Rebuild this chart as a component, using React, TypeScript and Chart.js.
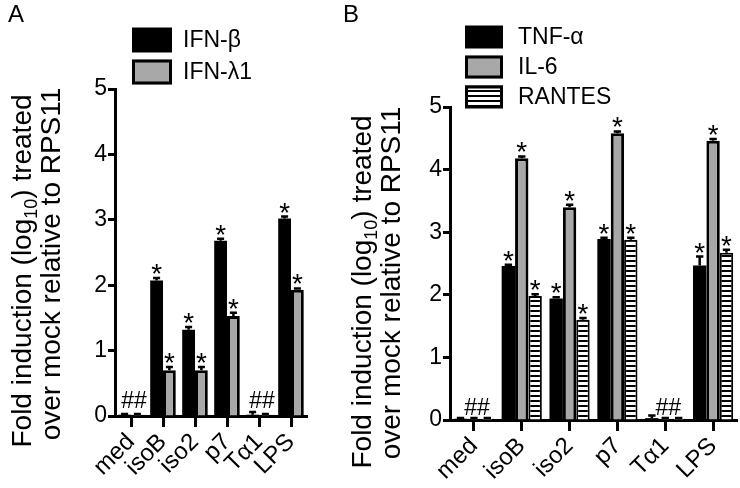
import React, { useEffect, useRef } from "react";
import { Chart, registerables } from "chart.js";

Chart.register(...registerables);

const FONT = "'Liberation Sans', Arial, sans-serif";

// ---------- data ----------
const categories = ["med", "isoB", "iso2", "p7", "Tα1", "LPS"];
const yTickValues = [0, 1, 2, 3, 4, 5];

// Panel A
const ifnBeta = [0.02, 2.07, 1.32, 2.68, 0.02, 3.02];
const ifnBetaErr = [0.01, 0.04, 0.04, 0.03, 0.04, 0.03];
const ifnLambda1 = [0.02, 0.7, 0.7, 1.53, 0.02, 1.93];
const ifnLambda1Err = [0.01, 0.05, 0.05, 0.05, 0.01, 0.02];
const starsA = [false, true, true, true, false, true];
const hashA = ["##", "", "", "", "##", ""];

// Panel B
const tnfAlpha = [0.02, 2.46, 1.94, 2.89, 0.03, 2.47];
const tnfAlphaErr = [0.01, 0.02, 0.02, 0.02, 0.04, 0.14];
const il6 = [0.02, 4.18, 3.4, 4.58, 0.02, 4.46];
const il6Err = [0.01, 0.03, 0.04, 0.03, 0.01, 0.03];
const rantes = [0.02, 1.98, 1.6, 2.88, 0.02, 2.67];
const rantesErr = [0.01, 0.03, 0.03, 0.03, 0.01, 0.05];
const starsB = [false, true, true, true, false, true];
const hashB = ["##", "", "", "", "##", ""];

const GRAY = "#a8a8a8";

function makeHatch(): CanvasPattern | string {
  const c = document.createElement("canvas");
  c.width = 8;
  c.height = 5;
  const g = c.getContext("2d");
  if (!g) return "#fff";
  g.fillStyle = "#fff";
  g.fillRect(0, 0, 8, 5);
  g.fillStyle = "#000";
  g.fillRect(0, 0, 8, 2);
  const p = g.createPattern(c, "repeat");
  return p || "#fff";
}

const annotPlugin = {
  id: "annot",
  afterDatasetsDraw(chart: any, _args: any, opts: any) {
    const ctx = chart.ctx;
    const y = chart.scales.y;
    const x = chart.scales.x;
    ctx.save();
    // error bars + stars
    chart.data.datasets.forEach((ds: any, i: number) => {
      const meta = chart.getDatasetMeta(i);
      meta.data.forEach((bar: any, j: number) => {
        const v = ds.data[j];
        const e = ds.errors[j];
        const yTop = y.getPixelForValue(v + e);
        const cap = Math.max(4, bar.width * 0.55);
        ctx.strokeStyle = "#000";
        ctx.lineWidth = 2.5;
        ctx.beginPath();
        ctx.moveTo(bar.x, bar.y);
        ctx.lineTo(bar.x, yTop);
        ctx.moveTo(bar.x - cap / 2, yTop);
        ctx.lineTo(bar.x + cap / 2, yTop);
        ctx.stroke();
        if (ds.stars[j]) {
          ctx.fillStyle = "#000";
          ctx.font = `28px ${FONT}`;
          ctx.textAlign = "center";
          ctx.textBaseline = "alphabetic";
          ctx.fillText("*", bar.x, yTop + 5);
        }
      });
    });
    // hash marks
    const y0 = y.getPixelForValue(0);
    opts.hash.forEach((h: string, j: number) => {
      if (!h) return;
      ctx.fillStyle = "#000";
      ctx.font = `23px ${FONT}`;
      ctx.textAlign = "center";
      ctx.textBaseline = "alphabetic";
      ctx.fillText(h, x.getPixelForValue(j) + 3, y0 - opts.hashGap);
    });
    ctx.restore();
  },
  afterDraw(chart: any, _args: any, opts: any) {
    const ctx = chart.ctx;
    ctx.save();
    // panel letter
    ctx.fillStyle = "#000";
    ctx.font = `24px ${FONT}`;
    ctx.textAlign = "left";
    ctx.textBaseline = "alphabetic";
    ctx.fillText(opts.letter, opts.letterX, 22);
    // legend
    chart.data.datasets.forEach((ds: any, i: number) => {
      const L = opts.legend;
      const cy = L.rows[i];
      const bx = L.x;
      const bw = L.w;
      const bh = L.h;
      ctx.fillStyle = ds.backgroundColor;
      ctx.fillRect(bx, cy - bh / 2, bw, bh);
      if (ds.borderWidth > 0) {
        ctx.strokeStyle = "#000";
        ctx.lineWidth = 3;
        ctx.strokeRect(bx + 1.5, cy - bh / 2 + 1.5, bw - 3, bh - 3);
      }
      ctx.fillStyle = "#000";
      ctx.font = `23px ${FONT}`;
      ctx.textAlign = "left";
      ctx.textBaseline = "middle";
      ctx.fillText(ds.label, L.textX, cy + 1);
    });
    // y title (two lines, with subscript)
    const T = opts.title;
    const fs = T.size;
    const sub = Math.round(fs * 0.65);
    const drawLine = (parts: { t: string; sub?: boolean }[], bx: number, cy: number) => {
      let total = 0;
      parts.forEach((p) => {
        ctx.font = `${p.sub ? sub : fs}px ${FONT}`;
        total += ctx.measureText(p.t).width;
      });
      ctx.save();
      ctx.translate(bx, cy);
      ctx.rotate(-Math.PI / 2);
      ctx.textAlign = "left";
      ctx.textBaseline = "alphabetic";
      ctx.fillStyle = "#000";
      let cx = -total / 2;
      parts.forEach((p) => {
        ctx.font = `${p.sub ? sub : fs}px ${FONT}`;
        ctx.fillText(p.t, cx, p.sub ? fs * 0.2 : 0);
        cx += ctx.measureText(p.t).width;
      });
      ctx.restore();
    };
    drawLine(
      [{ t: "Fold induction (log" }, { t: "10", sub: true }, { t: ") treated" }],
      T.x1,
      T.cy1
    );
    drawLine([{ t: "over mock relative to RPS11" }], T.x2, T.cy2);
    ctx.restore();
  },
};

function baseOptions(cfg: any) {
  return {
    responsive: false,
    animation: false as const,
    events: [],
    layout: { padding: { top: cfg.top, left: 0, right: cfg.right, bottom: 0 } },
    plugins: {
      legend: { display: false },
      tooltip: { enabled: false },
      annot: cfg.annot,
    },
    scales: {
      x: {
        type: "category" as const,
        offset: true,
        grid: {
          offset: false,
          drawOnChartArea: false,
          drawTicks: true,
          tickLength: 11,
          tickWidth: 3,
          tickColor: "#000",
        },
        border: { display: true, width: 3, color: "#000" },
        ticks: {
          color: "#000",
          font: { family: FONT, size: 24 },
          minRotation: 45,
          maxRotation: 45,
          padding: 1,
          autoSkip: false,
        },
        afterFit: (s: any) => {
          s.height = cfg.xh;
        },
      },
      y: {
        min: 0,
        max: 5,
        afterBuildTicks: (s: any) => {
          s.ticks = yTickValues.map((v) => ({ value: v }));
        },
        grid: {
          drawOnChartArea: false,
          drawTicks: true,
          tickLength: 7,
          tickWidth: 3,
          tickColor: "#000",
        },
        border: { display: true, width: 3, color: "#000" },
        ticks: {
          color: "#000",
          font: { family: FONT, size: 23 },
          padding: 1,
        },
        afterFit: (s: any) => {
          s.width = cfg.yw;
        },
      },
    },
  };
}

export default function App() {
  const refA = useRef<HTMLCanvasElement>(null);
  const refB = useRef<HTMLCanvasElement>(null);

  useEffect(() => {
    const hatch = makeHatch();
    const chartA = new Chart(refA.current as HTMLCanvasElement, {
      type: "bar",
      data: {
        labels: categories,
        datasets: [
          {
            label: "IFN-β",
            data: ifnBeta,
            errors: ifnBetaErr,
            stars: starsA,
            backgroundColor: "#000",
            borderColor: "#000",
            borderWidth: 0,
            categoryPercentage: 0.8,
            barPercentage: 1,
          } as any,
          {
            label: "IFN-λ1",
            data: ifnLambda1,
            errors: ifnLambda1Err,
            stars: starsA,
            backgroundColor: GRAY,
            borderColor: "#000",
            borderWidth: 3,
            borderSkipped: "bottom",
            categoryPercentage: 0.8,
            barPercentage: 1,
          } as any,
        ],
      },
      options: baseOptions({
        top: 89,
        right: 33,
        xh: 72,
        yw: 115,
        annot: {
          hash: hashA,
          hashGap: 8,
          letter: "A",
          letterX: 8,
          legend: { x: 132, w: 40, h: 25, rows: [40, 72], textX: 183 },
          title: { size: 28, x1: 31, x2: 60, cy1: 271, cy2: 264 },
        },
      }) as any,
      plugins: [annotPlugin],
    });

    const chartB = new Chart(refB.current as HTMLCanvasElement, {
      type: "bar",
      data: {
        labels: categories,
        datasets: [
          {
            label: "TNF-α",
            data: tnfAlpha,
            errors: tnfAlphaErr,
            stars: starsB,
            backgroundColor: "#000",
            borderColor: "#000",
            borderWidth: 0,
            categoryPercentage: 0.84,
            barPercentage: 1,
          } as any,
          {
            label: "IL-6",
            data: il6,
            errors: il6Err,
            stars: starsB,
            backgroundColor: GRAY,
            borderColor: "#000",
            borderWidth: 3,
            borderSkipped: "bottom",
            categoryPercentage: 0.84,
            barPercentage: 1,
          } as any,
          {
            label: "RANTES",
            data: rantes,
            errors: rantesErr,
            stars: starsB,
            backgroundColor: hatch,
            borderColor: "#000",
            borderWidth: 2,
            borderSkipped: "bottom",
            categoryPercentage: 0.84,
            barPercentage: 1,
          } as any,
        ],
      },
      options: baseOptions({
        top: 107,
        right: 3,
        xh: 68,
        yw: 110,
        annot: {
          hash: hashB,
          hashGap: 5,
          letter: "B",
          letterX: 3,
          legend: { x: 125, w: 38, h: 23, rows: [37, 67, 97], textX: 178 },
          title: { size: 28, x1: 31, x2: 60, cy1: 292, cy2: 283 },
        },
      }) as any,
      plugins: [annotPlugin],
    });

    return () => {
      chartA.destroy();
      chartB.destroy();
    };
  }, []);

  return (
    <div
      style={{
        position: "fixed",
        left: 0,
        top: 0,
        width: 740,
        height: 488,
        background: "#fff",
      }}
    >
      <canvas
        ref={refA}
        width={340}
        height={488}
        style={{ position: "absolute", left: 0, top: 0, width: 340, height: 488 }}
      />
      <canvas
        ref={refB}
        width={400}
        height={488}
        style={{ position: "absolute", left: 340, top: 0, width: 400, height: 488 }}
      />
    </div>
  );
}
